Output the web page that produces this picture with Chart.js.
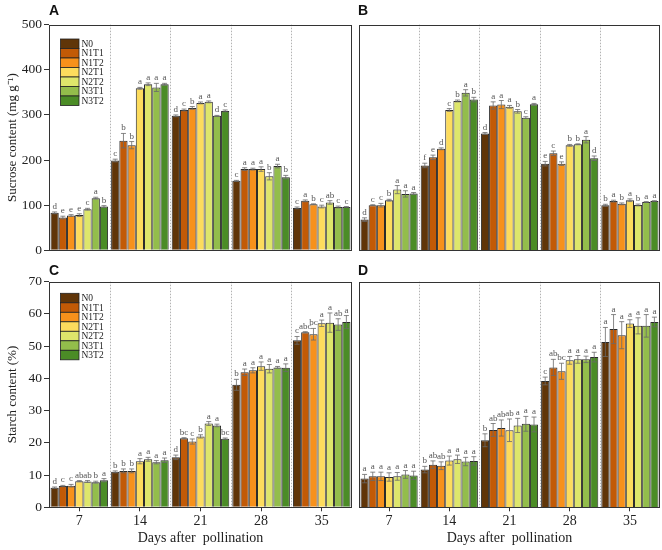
<!DOCTYPE html>
<html>
<head>
<meta charset="utf-8">
<script src="https://cdn.jsdelivr.net/npm/chart.js@4.4.1/dist/chart.umd.min.js"></script>
<style>
  body { margin: 0; background: #fff; }
  #fig { position: relative; width: 662px; height: 550px; overflow: hidden; }
  canvas { position: absolute; }
  .tag { position: absolute; font: bold 14px "Liberation Sans", Arial, sans-serif; color: #111; line-height: 14px; }
</style>
</head>
<body>
<div id="fig">
  <canvas id="panelA" width="355" height="262" style="left:0;top:0"></canvas>
  <canvas id="panelB" width="307" height="262" style="left:355px;top:0"></canvas>
  <canvas id="panelC" width="355" height="288" style="left:0;top:262px"></canvas>
  <canvas id="panelD" width="307" height="288" style="left:355px;top:262px"></canvas>
  <div class="tag" style="left:49px;top:3px">A</div>
  <div class="tag" style="left:358px;top:3px">B</div>
  <div class="tag" style="left:49px;top:263px">C</div>
  <div class="tag" style="left:358px;top:263px">D</div>
</div>
<script>
var days = ['7', '14', '21', '28', '35'];
var treatments = ['N0', 'N1T1', 'N1T2', 'N2T1', 'N2T2', 'N3T1', 'N3T2'];
var colors = ['#603508', '#c25a06', '#f7911b', '#fddc5d', '#dee66b', '#93bd4b', '#4b8c26'];

// one row per day (7, 14, 21, 28, 35), one value per treatment
var sucroseA = [
  [83, 72.6, 77, 78, 91, 115.6, 97],
  [199, 243, 233, 359, 368, 361, 368],
  [298, 311, 315.6, 326.7, 329, 298, 309],
  [154, 180, 180, 180, 164, 186.7, 162],
  [94, 109.6, 102, 97, 106, 96, 96]
];
var sucroseAErr = [
  [2, 3, 2, 3, 2, 2, 2],
  [3, 16, 8, 2, 3, 9, 2],
  [2, 2, 3, 2, 2, 1, 2],
  [1, 3, 2, 5, 8, 4, 4],
  [2, 2, 1, 3, 4, 2, 1]
];
var sucroseALetters = ['d e e e c a b', 'c b b a a a a', 'd c b a a d c', 'c a a a b a b', 'c a b c ab c c'];

var sucroseB = [
  [68, 100, 100, 111, 134.5, 125, 126],
  [188, 206, 225, 311, 331, 349, 334],
  [259, 321, 323, 318, 308, 294, 323.5],
  [192, 215, 192, 232.6, 235, 245, 204],
  [100, 109, 103, 111, 100.5, 107, 109]
];
var sucroseBErr = [
  [4, 1, 4, 2, 9, 7, 2],
  [5, 5, 2, 3, 2, 7, 5],
  [2, 8, 9, 3, 4, 2, 2],
  [5, 5, 4, 2, 1, 7, 5],
  [2, 2, 2, 3, 2, 1, 1]
];
var sucroseBLetters = ['d c c b a a a', 'f e d c b a b', 'd a a a b c a', 'e c e b b a d', 'b a b a b a a'];

var starchC = [
  [6.1, 6.6, 6.7, 8.1, 8.0, 7.8, 8.4],
  [11.0, 11.3, 11.3, 14.3, 14.9, 14.0, 14.6],
  [15.5, 21.4, 20.4, 22.0, 26.0, 25.4, 21.3],
  [38.0, 41.9, 42.5, 43.8, 43.0, 43.4, 43.3],
  [51.8, 54.3, 53.7, 57.1, 57.3, 56.7, 57.5]
];
var starchCErr = [
  [0.2, 0.2, 0.4, 0.2, 0.3, 0.3, 0.5],
  [0.3, 0.6, 0.6, 0.8, 0.6, 0.5, 0.7],
  [0.7, 0.2, 0.8, 0.5, 0.6, 0.4, 0.2],
  [1.7, 1.0, 0.8, 1.3, 1.3, 0.3, 1.2],
  [1.2, 0.2, 1.8, 1.0, 3.0, 1.8, 2.0]
];
var starchCLetters = ['d c c ab ab b a', 'b b b a a a a', 'd bc c b a a bc', 'b a a a a a a', 'c abc bc a a ab a'];

var starchD = [
  [8.9, 9.6, 9.6, 9.4, 9.6, 10.2, 9.9],
  [11.7, 13.2, 12.9, 14.5, 14.9, 14.2, 14.4],
  [20.8, 24.0, 24.6, 23.9, 25.4, 25.9, 25.7],
  [39.2, 43.4, 42.2, 45.6, 45.9, 45.9, 46.6],
  [51.3, 55.3, 53.4, 57.0, 56.3, 56.3, 57.5]
];
var starchDErr = [
  [1.3, 1.3, 1.3, 1.3, 1.2, 1.2, 1.3],
  [1.0, 1.2, 1.2, 1.4, 1.3, 1.3, 1.3],
  [2.0, 2.0, 2.5, 3.5, 2.2, 2.3, 2.3],
  [1.2, 2.5, 2.5, 1.2, 1.2, 1.0, 1.5],
  [4.5, 4.5, 4.2, 1.2, 2.5, 3.5, 1.5]
];
var starchDLetters = ['a a a a a a a', 'b ab ab a a a a', 'b ab ab ab a a a', 'c ab bc a a a a', 'a a a a a a a'];

var serif = '"Liberation Serif", "Times New Roman", serif';

function buildDatasets(values) {
  return treatments.map(function(name, t) {
    return {
      label: name,
      data: values.map(function(row) { return row[t]; }),
      backgroundColor: colors[t],
      borderColor: '#2a2a2a',
      borderWidth: 1,
      categoryPercentage: 0.95,
      barPercentage: 1.0
    };
  });
}

function makePanel(id, cfg) {
  var letters = cfg.letters.map(function(s) { return s.split(' '); });

  var decor = {
    id: 'decor',
    beforeDatasetsDraw: function(chart) {
      // dotted lines between the days
      var ctx = chart.ctx, x = chart.scales.x, area = chart.chartArea;
      ctx.save();
      ctx.strokeStyle = '#a0a0a0';
      ctx.lineWidth = 0.8;
      ctx.setLineDash([1.5, 1.5]);
      for (var i = 0; i < days.length - 1; i++) {
        var px = Math.round((x.getPixelForValue(i) + x.getPixelForValue(i + 1)) / 2) + 0.5;
        ctx.beginPath();
        ctx.moveTo(px, area.top);
        ctx.lineTo(px, area.bottom);
        ctx.stroke();
      }
      ctx.restore();
    },
    afterDatasetsDraw: function(chart) {
      // error bars and significance letters
      var ctx = chart.ctx, y = chart.scales.y;
      ctx.save();
      ctx.font = '9px ' + serif;
      ctx.textAlign = 'center';
      for (var t = 0; t < treatments.length; t++) {
        var bars = chart.getDatasetMeta(t).data;
        for (var d = 0; d < days.length; d++) {
          var v = cfg.values[d][t], e = cfg.errors[d][t];
          var bx = bars[d].x;
          var yTop = y.getPixelForValue(v + e);
          var yBot = y.getPixelForValue(v - e);
          ctx.strokeStyle = '#6a6a6a';
          ctx.lineWidth = 0.8;
          ctx.beginPath();
          ctx.moveTo(bx, yTop); ctx.lineTo(bx, yBot);
          ctx.moveTo(bx - 2.5, yTop); ctx.lineTo(bx + 2.5, yTop);
          ctx.moveTo(bx - 2.5, yBot); ctx.lineTo(bx + 2.5, yBot);
          ctx.stroke();
          ctx.fillStyle = '#555';
          ctx.fillText(letters[d][t], bx, yTop - 3);
        }
      }
      ctx.restore();
    },
    afterDraw: function(chart) {
      var ctx = chart.ctx, area = chart.chartArea;
      ctx.save();
      // box around the plot
      ctx.strokeStyle = '#333';
      ctx.lineWidth = 1;
      ctx.strokeRect(Math.round(area.left) + 0.5, Math.round(area.top) + 0.5,
        Math.round(area.right - area.left) - 1, Math.round(area.bottom - area.top) - 1);

      if (cfg.legend) {
        var lx = area.left + 11.5, ly = area.top + cfg.legendTop, bw = 18.5, bh = 9.5;
        ctx.font = '9.5px ' + serif;
        ctx.textBaseline = 'middle';
        ctx.textAlign = 'left';
        for (var i = 0; i < treatments.length; i++) {
          ctx.fillStyle = colors[i];
          ctx.fillRect(lx, ly + i * bh, bw, bh);
          ctx.strokeStyle = '#222';
          ctx.lineWidth = 0.8;
          ctx.strokeRect(lx, ly + i * bh, bw, bh);
          ctx.fillStyle = '#222';
          ctx.fillText(treatments[i], lx + bw + 2.5, ly + i * bh + bh / 2 + 0.5);
        }
      }
      ctx.restore();
    }
  };

  var xScale = {
    offset: true,
    border: { display: false },
    grid: cfg.xLabels ? { drawOnChartArea: false, drawTicks: true, tickLength: 4, color: '#333', offset: false } : { display: false },
    ticks: cfg.xLabels ? { font: { family: serif, size: 14 }, color: '#222', padding: 2 } : { display: false },
    title: cfg.xLabels ? { display: true, text: 'Days after  pollination', font: { family: serif, size: 14 }, color: '#222', padding: { top: 0, bottom: 3 } } : { display: false },
    afterFit: function(scale) { scale.height = cfg.xHeight; }
  };

  var yScale = {
    min: 0,
    max: cfg.max,
    display: cfg.yLabels,
    border: { display: false },
    grid: { drawOnChartArea: false, drawTicks: true, tickLength: 5, color: '#333' },
    ticks: { stepSize: cfg.step, font: { family: serif, size: 13.5 }, color: '#222', padding: 2 },
    title: { display: true, text: cfg.yTitle || '', font: { family: serif, size: 13 }, color: '#222', padding: { top: 5, bottom: 0 } },
    afterFit: function(scale) { scale.width = cfg.yLabels ? 49 : 0; }
  };

  return new Chart(document.getElementById(id), {
    type: 'bar',
    data: { labels: days, datasets: buildDatasets(cfg.values) },
    options: {
      responsive: false,
      animation: false,
      layout: { padding: cfg.padding },
      plugins: { legend: { display: false }, tooltip: { enabled: false } },
      scales: { x: xScale, y: yScale }
    },
    plugins: [decor]
  });
}

makePanel('panelA', {
  values: sucroseA, errors: sucroseAErr, letters: sucroseALetters,
  max: 500, step: 100, yLabels: true, yTitle: 'Sucrose content (mg g\u207B\u00B9)',
  xLabels: false, xHeight: 11.7, legend: true, legendTop: 14.3,
  padding: { top: 24.7, right: 3, left: 0, bottom: 0 }
});
makePanel('panelB', {
  values: sucroseB, errors: sucroseBErr, letters: sucroseBLetters,
  max: 500, step: 100, yLabels: false,
  xLabels: false, xHeight: 11.7, legend: false,
  padding: { top: 24.7, right: 2, left: 4, bottom: 0 }
});
makePanel('panelC', {
  values: starchC, errors: starchCErr, letters: starchCLetters,
  max: 70, step: 10, yLabels: true, yTitle: 'Starch content (%)',
  xLabels: true, xHeight: 42.7, legend: true, legendTop: 11.6,
  padding: { top: 19.7, right: 3, left: 0, bottom: 0 }
});
makePanel('panelD', {
  values: starchD, errors: starchDErr, letters: starchDLetters,
  max: 70, step: 10, yLabels: false,
  xLabels: true, xHeight: 42.7, legend: false,
  padding: { top: 19.7, right: 2, left: 4, bottom: 0 }
});
</script>
</body>
</html>
